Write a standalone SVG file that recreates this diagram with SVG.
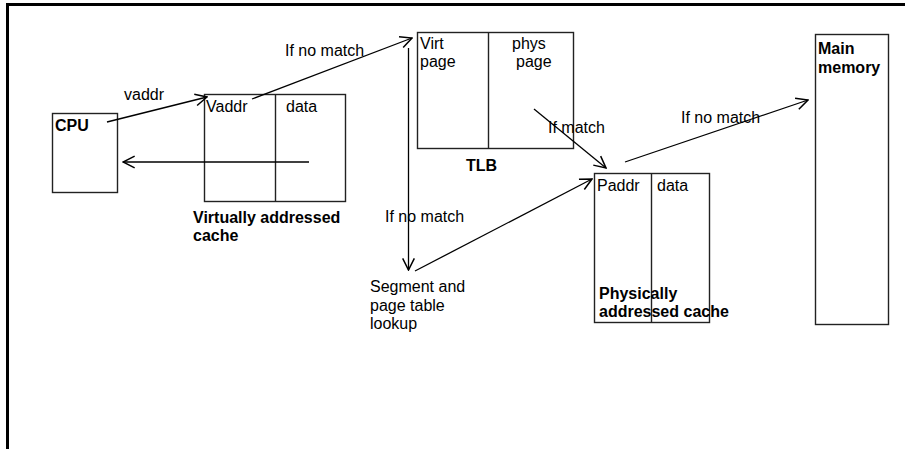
<svg xmlns="http://www.w3.org/2000/svg" width="905" height="449" viewBox="0 0 905 449">
<style>
.box{fill:none;stroke:#222;stroke-width:1.4}
.conn{fill:none;stroke:#000;stroke-width:1.3}
text{font-family:"Liberation Sans",Arial,sans-serif;font-size:16px;fill:#000}
.b{font-weight:bold}
</style>
<defs>
<marker id="arr" markerUnits="userSpaceOnUse" markerWidth="14" markerHeight="14" refX="10" refY="5" orient="auto" viewBox="-1 -1 12 12">
<path d="M0,0 L10,5 L0,10" fill="none" stroke="#000" stroke-width="1.3"/>
</marker>
</defs>
<rect width="905" height="449" fill="#fff"/>
<path d="M7.5,449 V4.5 H905" fill="none" stroke="#000" stroke-width="3"/>
<g id="cpu">
<rect class="box" x="52.5" y="113.5" width="65" height="79"/>
<text class="b" x="55" y="131">CPU</text>
</g>
<g id="vcache">
<rect class="box" x="204.5" y="94.5" width="141" height="107"/>
<line class="box" x1="275.5" y1="94.5" x2="275.5" y2="201.5"/>
<text x="206" y="112">Vaddr</text>
<text x="286" y="112">data</text>
<text class="b" x="193" y="223">Virtually addressed</text>
<text class="b" x="193" y="241">cache</text>
</g>
<g id="tlb">
<rect class="box" x="417.5" y="32.5" width="156" height="116"/>
<line class="box" x1="488.5" y1="32.5" x2="488.5" y2="148.5"/>
<text x="420" y="49">Virt</text>
<text x="420" y="67">page</text>
<text x="512" y="49">phys</text>
<text x="516" y="67">page</text>
<text class="b" x="466" y="171">TLB</text>
</g>
<g id="lookup">
<text x="370" y="292">Segment and</text>
<text x="370" y="310.5">page table</text>
<text x="370" y="329">lookup</text>
</g>
<g id="pcache">
<rect class="box" x="594.5" y="173.5" width="115" height="149"/>
<line class="box" x1="651.5" y1="173.5" x2="651.5" y2="322.5"/>
<text x="597" y="191">Paddr</text>
<text x="657" y="191">data</text>
<text class="b" x="599" y="299">Physically</text>
<text class="b" x="599" y="317">addressed cache</text>
</g>
<g id="mainmem">
<rect class="box" x="815.5" y="34.5" width="73" height="290"/>
<text class="b" x="818" y="54">Main</text>
<text class="b" x="818" y="73">memory</text>
</g>
<g id="connectors">
<line class="conn" x1="107" y1="122" x2="207" y2="97" marker-end="url(#arr)"/>
<text x="124" y="100">vaddr</text>
<line class="conn" x1="252" y1="99" x2="412" y2="38" marker-end="url(#arr)"/>
<text x="285" y="55.5">If no match</text>
<line class="conn" x1="309" y1="162" x2="123" y2="162" marker-end="url(#arr)"/>
<line class="conn" x1="408.5" y1="48" x2="408.5" y2="270" marker-end="url(#arr)"/>
<text x="385" y="222">If no match</text>
<line class="conn" x1="415" y1="271" x2="592" y2="179" marker-end="url(#arr)"/>
<line class="conn" x1="534" y1="109" x2="606" y2="168" marker-end="url(#arr)"/>
<text x="548" y="133">If match</text>
<line class="conn" x1="625" y1="162" x2="808" y2="100" marker-end="url(#arr)"/>
<text x="681" y="123">If no match</text>
</g>
</svg>
